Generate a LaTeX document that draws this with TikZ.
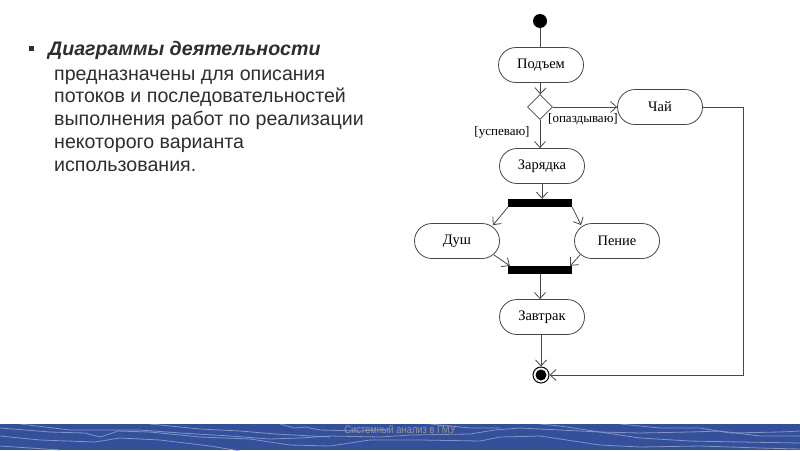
\documentclass[tikz,border=0pt]{standalone}
\usepackage{fontspec}
\setmainfont{Liberation Sans}
\newfontfamily\diagfont{Liberation Serif}
\usetikzlibrary{arrows.meta,shapes.geometric,calc}
\definecolor{band}{HTML}{34509A}
\definecolor{wave}{HTML}{8FA0CF}
\definecolor{lineg}{HTML}{474747}
\definecolor{txt}{HTML}{2E2E2E}
\tikzset{
  act/.style={draw=lineg,line width=0.8pt,rectangle,rounded corners=17.5pt,minimum width=85pt,minimum height=35pt,font=\diagfont\fontsize{14.5}{16}\selectfont,inner sep=0pt},
  bar/.style={fill=black,draw=none,rectangle,minimum width=64pt,minimum height=8pt,inner sep=0pt},
  arr/.style={draw=lineg,line width=0.8pt,-{Straight Barb[length=6pt,width=11pt,line width=0.8pt]}},
  plain/.style={draw=lineg,line width=0.8pt},
  guard/.style={font=\diagfont\fontsize{13}{14}\selectfont,inner sep=0pt,text=black},
  body/.style={anchor=base west,inner sep=0pt,text=txt,font=\fontsize{19.6}{22}\selectfont},
  wv/.style={draw=wave,line width=0.8pt,opacity=0.85}
}
\begin{document}
\begin{tikzpicture}[x=1pt,y=-1pt]
\useasboundingbox (0,0) rectangle (800,450);
\fill[white] (0,0) rectangle (800,450);
% left text
\fill[txt] (29,45.5) rectangle (34,50.5);
\node[body,font=\bfseries\itshape\fontsize{19.6}{22}\selectfont] (l1) at (48,55) {Диаграммы деятельности};
\node[body] (l2) at (54,80) {предназначены для описания};
\node[body] (l3) at (54,102.5) {потоков и последовательностей};
\node[body] (l4) at (54,125.5) {выполнения работ по реализации};
\node[body] (l5) at (54,148.5) {некоторого варианта};
\node[body] (l6) at (54,171.5) {использования.};
% diagram
\node[circle,fill=black,minimum size=14pt,inner sep=0pt] (start) at (540,21) {};
\node[act] (podem) at (541,65) {Подъем};
\node[diamond,draw=lineg,line width=0.8pt,fill=white,minimum width=25pt,minimum height=25pt,inner sep=0pt,aspect=1] (dec) at (540,107) {};
\node[act] (chai) at (660,107) {Чай};
\node[act] (zar) at (542,166) {Зарядка};
\node[bar] (fork) at (540,203) {};
\node[act] (dush) at (457,241) {Душ};
\node[act] (pen) at (617,241) {Пение};
\node[bar] (join) at (540,270) {};
\node[act] (zav) at (542,317) {Завтрак};
\node[circle,draw=black,line width=1pt,fill=white,minimum size=16pt,inner sep=0pt] (endn) at (541,375) {};
\node[circle,fill=black,minimum size=11pt,inner sep=0pt] (endi) at (541,375) {};
\coordinate (corner) at (743,107);
\draw[plain] (start) -- (start |- podem.north);
\draw[arr] (podem) -- (dec);
\draw[arr] (dec) -- (chai);
\draw[arr] (dec) -- (dec |- zar.north);
\draw[arr] (zar) -- (zar.south |- fork.north);
\draw[arr] (fork.south west) -- ($(dush.north east)+(-7,2)$);
\draw[arr] (fork.south east) -- ($(pen.north west)+(7,2)$);
\draw[arr] ($(dush.south east)+(-6,-4)$) -- ($(join.north west)+(2,0)$);
\draw[arr] ($(pen.south west)+(6,-4)$) -- ($(join.north east)+(-2,0)$);
\draw[arr] (join) -- (join.south |- zav.north);
\draw[arr] (zav.south -| endn) -- (endn);
\draw[arr] (chai.east) -- (corner) |- (endn);
\node[guard] (g1) at (583,119.5) {[опаздываю]};
\node[guard] (g2) at (502,132) {[успеваю]};
% footer
\fill[band] (0,424) rectangle (800,450);
\begin{scope}
\clip (0,424) rectangle (800,450);
\draw[wv] (0,428) -- (50,432) -- (85,433) -- (100,437) -- (118,431) -- (150,432) -- (200,437) -- (250,439) -- (290,445) -- (330,446) -- (370,440) -- (420,440) -- (480,441) -- (500,437) -- (540,436) -- (600,445) -- (640,447) -- (700,446) -- (760,448) -- (800,449);
\draw[wv] (0,436) -- (40,440) -- (95,442) -- (120,438) -- (160,440) -- (210,446) -- (240,451);
\draw[wv] (20,424) -- (70,430) -- (140,430) -- (180,433) -- (230,436) -- (270,439) -- (300,438) -- (330,436) -- (380,437) -- (410,435) -- (470,434) -- (495,430) -- (520,428) -- (560,430) -- (600,432) -- (640,433) -- (690,432) -- (720,431) -- (760,436) -- (800,436);
\draw[wv] (150,424) -- (200,429) -- (240,431) -- (275,434) -- (330,437);
\draw[wv] (280,424) -- (295,428) -- (305,427) -- (320,430) -- (360,431) -- (390,429);
\draw[wv] (540,424) -- (560,426) -- (600,432) -- (640,438) -- (690,441) -- (740,442) -- (800,443);
\draw[wv] (620,424) -- (660,428) -- (700,428) -- (730,433) -- (780,432) -- (800,431);
\draw[wv] (430,424) -- (470,428) -- (500,428);
\draw[wv] (0,446) -- (30,448) -- (60,450);
\end{scope}
\node[text=gray!80,font=\fontsize{11}{12}\selectfont,inner sep=0pt,xscale=0.85] (foot) at (400,429) {Системный анализ в ГМУ};
\end{tikzpicture}
\end{document}
